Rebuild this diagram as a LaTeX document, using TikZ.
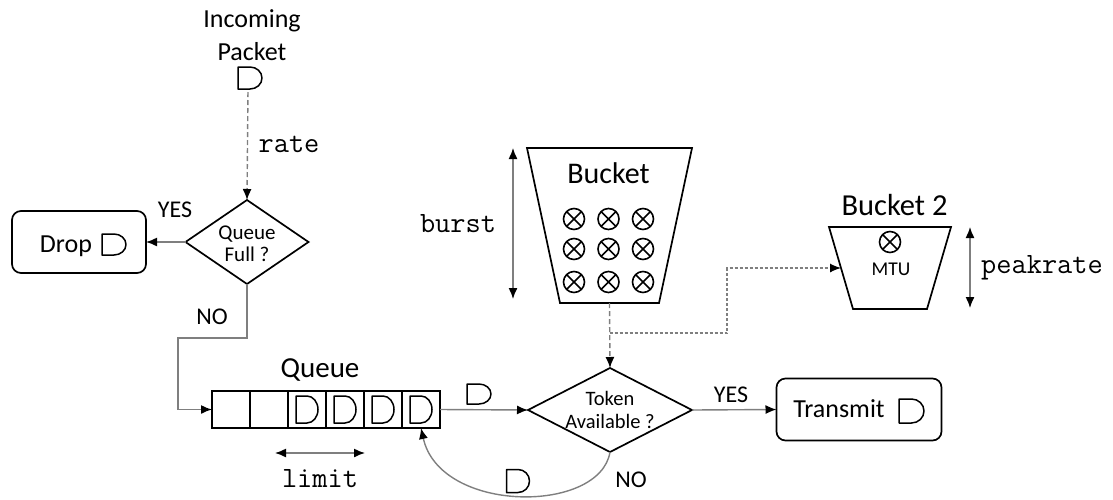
\documentclass[tikz,border=0pt]{standalone}
\usepackage{fontspec}
\setmainfont{Carlito}
\usetikzlibrary{arrows.meta,shapes.geometric}

\definecolor{wire}{HTML}{7F7F7F}

\begin{document}
\begin{tikzpicture}[x=1pt,y=-1pt,
  every node/.style={inner sep=0pt,outer sep=0pt},
  shapeline/.style={draw=black,line width=1.7pt},
  pktline/.style={draw=black,line width=1.5pt,line join=round},
  wireline/.style={draw=wire,line width=1.4pt},
  tip/.style={-{Latex[length=11pt,width=9pt,color=black]}},
  twotip/.style={{Latex[length=11pt,width=9pt,color=black]}-{Latex[length=11pt,width=9pt,color=black]}},
  dashline/.style={wireline,dash pattern=on 5pt off 3pt},
  dotline/.style={draw=wire,line width=1.2pt,dash pattern=on 3pt off 2pt},
  box/.style={shapeline,rounded corners=9pt,minimum width=#1,minimum height=62pt},
  decision/.style 2 args={shapeline,diamond,minimum width=#1,minimum height=#2},
  cell/.style={shapeline,minimum width=38pt,minimum height=37pt},
  tok/.style={circle,draw=black,line width=1.6pt,minimum size=21pt,
    path picture={\draw[line width=1.6pt]
      (path picture bounding box.south west) -- (path picture bounding box.north east)
      (path picture bounding box.north west) -- (path picture bounding box.south east);}},
  pkt/.style 2 args={minimum width=#1,minimum height=#2,
    append after command={\pgfextra{\draw[pktline]
      (\tikzlastnode.south west) -- (\tikzlastnode.north west) -- (\tikzlastnode.north)
      arc[start angle=90,end angle=-90,x radius=#1/2,y radius=#2/2] -- cycle;}}},
  txt/.style={font=\fontsize{#1}{#1}\selectfont},
  code/.style={font=\ttfamily\fontsize{29.5}{29.5}\selectfont,anchor=base},
]
\useasboundingbox (0,0) rectangle (1113,499);

% incoming packet
\node[txt=26,anchor=base] (lblIn1) at (252,27) {Incoming};
\node[txt=26,anchor=base] (lblIn2) at (252,60) {Packet};
\node[pkt={24pt}{22pt}] (inpkt) at (250,78) {};
\node[code] (lblRate) at (289,152) {rate};

% queue-full decision and drop
\node[decision={123pt}{84pt}] (qfull) at (247,242) {};
\node[txt=21,align=center] (qfullTxt) at (247,244) {Queue\\[1pt]Full ?};
\node[box=134pt] (drop) at (79,242) {};
\node[txt=26,anchor=base] (dropTxt) at (66,252) {Drop};
\node[pkt={24pt}{21pt}] (droppkt) at (114,244.5) {};
\node[txt=24,anchor=base] (yes1) at (175,217) {YES};
\node[txt=24,anchor=base] (no1) at (212,324) {NO};

% queue
\node[txt=29,anchor=base] (queueTxt) at (320,377) {Queue};
\foreach \i/\x in {1/231,2/269,3/307,4/345,5/383,6/421}
  \node[cell] (q\i) at (\x,409.5) {};
\foreach \i in {3,...,6}
  \node[pkt={22pt}{27pt}] (p\i) at (q\i) {};
\node[code] (lblLimit) at (320,487) {limit};
\coordinate (limA) at (275,453);
\coordinate (limB) at (365,453);

% token decision and transmit
\node[decision={164pt}{84pt}] (token) at (610,410) {};
\node[txt=20.5,align=center] (tokenTxt) at (610,410) {Token\\[2pt]Available ?};
\node[pkt={24pt}{20pt}] (fwdpkt) at (479,394) {};
\node[box=165pt] (tx) at (859,409.5) {};
\node[txt=26,anchor=base] (txTxt) at (839,417) {Transmit};
\node[pkt={25pt}{24pt}] (txpkt) at (911.5,411) {};
\node[txt=24,anchor=base] (yes2) at (731,402) {YES};
\node[txt=24,anchor=base] (no2) at (631,487) {NO};
\node[pkt={23pt}{23pt}] (looppkt) at (518,481) {};

% bucket (tapered container)
\draw[shapeline,line join=miter] (527,148) -- (692,148) -- (659,303) -- (560,303) -- cycle;
\coordinate (bucketBottom) at (609.5,303);
\node[txt=30,anchor=base] (bucketTxt) at (608.5,183) {Bucket};
\foreach \r/\y in {1/219,2/249,3/282}
  \foreach \c/\x in {1/574,2/608.5,3/643}
    \node[tok] (t\r\c) at (\x,\y) {};
\coordinate (burstA) at (513,148);
\coordinate (burstB) at (513,299);
\node[code] (lblBurst) at (458,232) {burst};

% second bucket
\draw[shapeline,line join=miter] (829,227) -- (951,227) -- (927,309) -- (853,309) -- cycle;
\coordinate (bucket2West) at (841,268);
\node[txt=30.5,anchor=base] (bucket2Txt) at (894.5,215) {Bucket 2};
\node[tok] (t2) at (890,242) {};
\node[txt=19.5,anchor=base] (mtuTxt) at (891,275) {MTU};
\coordinate (peakA) at (970,227);
\coordinate (peakB) at (970,308);
\node[code] (lblPeak) at (1042,273) {peakrate};

% connectors
\draw[dashline,tip,shorten <=3pt] ([xshift=-2pt]inpkt.south) -- (qfull.north);
\draw[wireline,tip] (qfull.west) -- (drop.east);
\draw[wireline,tip] (qfull.south) -- ++(0,54) -| ([xshift=-34pt]q1.west) -- (q1.west);
\draw[wireline,tip] (q6.east) -- (token.west);
\draw[wireline,tip] (token.east) -- (tx.west);
\draw[wireline,tip] (token.south) .. controls (600,514) and (440,514) .. (q6.south);
\draw[dashline,tip] (bucketBottom) -- (token.north);
\coordinate (split) at (609.5,333);
\draw[dotline,tip] (split) -- (727,333) -- (727,268) -- (bucket2West);
\draw[wireline,twotip] (limA) -- (limB);
\draw[wireline,twotip] (burstA) -- (burstB);
\draw[wireline,twotip] (peakA) -- (peakB);
\end{tikzpicture}
\end{document}
